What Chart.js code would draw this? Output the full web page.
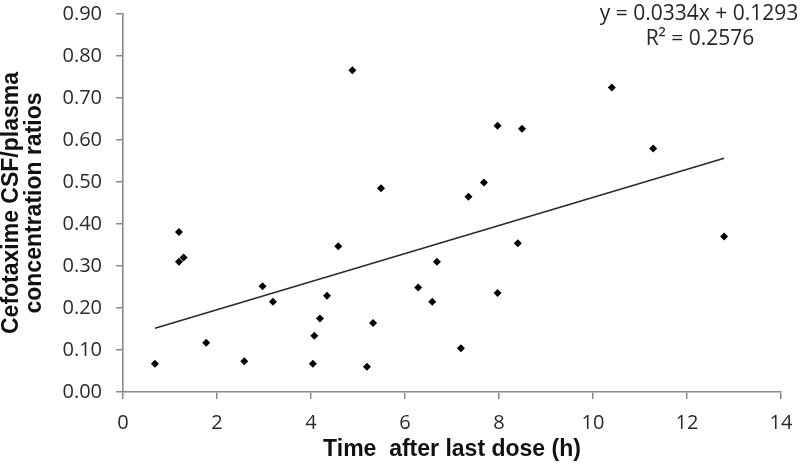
<!DOCTYPE html>
<html>
<head>
<meta charset="utf-8">
<script src="https://cdn.jsdelivr.net/npm/chart.js@4/dist/chart.umd.min.js"></script>
<style>
html,body{margin:0;padding:0;background:#fff;}
#wrap{width:800px;height:471px;position:relative;}
</style>
</head>
<body>
<div id="wrap"><canvas id="c" width="800" height="471"></canvas></div>
<script>
// Data
const timeHours = [0.68, 1.19, 1.19, 1.29, 1.77, 2.58, 2.97, 3.19, 4.04, 4.07, 4.19, 4.34, 4.58, 4.88, 5.19, 5.32, 5.49, 6.28, 6.58, 6.68, 7.19, 7.35, 7.68, 7.97, 7.97, 8.40, 8.49, 10.40, 11.28, 12.79];
const ratios    = [0.067, 0.381, 0.310, 0.320, 0.117, 0.073, 0.252, 0.215, 0.067, 0.134, 0.175, 0.229, 0.347, 0.766, 0.060, 0.164, 0.485, 0.249, 0.215, 0.310, 0.104, 0.465, 0.499, 0.634, 0.236, 0.354, 0.627, 0.725, 0.580, 0.370];
const trendSlope = 0.0334;
const trendIntercept = 0.1293;
const trendRange = [0.68, 12.79];
const rSquared = "0.2576";
const xTicks = [0, 2, 4, 6, 8, 10, 12, 14];
const yTicks = [0.00, 0.10, 0.20, 0.30, 0.40, 0.50, 0.60, 0.70, 0.80, 0.90];
const xTitle = "Time  after last dose (h)";
const yTitle = ["Cefotaxime CSF/plasma", "concentration ratios"];

const points = timeHours.map((x, i) => ({x: x, y: ratios[i]}));
const trend = trendRange.map(x => ({x: x, y: trendSlope * x + trendIntercept}));

const axisColor = '#8a8a8a';
const tickFont = {family: '"Open Sans", "Liberation Sans", Arial, sans-serif', size: 20};

const eqPlugin = {
  id: 'eq',
  afterDraw(chart) {
    const ctx = chart.ctx;
    ctx.save();
    ctx.fillStyle = '#262626';
    ctx.font = '21px "Open Sans", "Liberation Sans", Arial, sans-serif';
    ctx.textAlign = 'center';
    ctx.textBaseline = 'alphabetic';
    ctx.fillText('y = ' + trendSlope + 'x + ' + trendIntercept, 699, 20);
    ctx.fillText('R\u00B2 = ' + rSquared, 700, 45);
    ctx.restore();
  }
};

new Chart(document.getElementById('c'), {
  type: 'scatter',
  data: {
    datasets: [
      {
        label: 'ratios',
        data: points,
        pointStyle: 'rectRot',
        radius: 4,
        backgroundColor: '#000',
        borderColor: '#000',
        borderWidth: 0,
        order: 1
      },
      {
        label: 'trend',
        type: 'line',
        data: trend,
        showLine: true,
        borderColor: '#2a2a2a',
        borderWidth: 1.6,
        pointRadius: 0,
        fill: false,
        order: 2
      }
    ]
  },
  options: {
    responsive: false,
    animation: false,
    layout: {padding: {top: 14, right: 19, bottom: 0, left: 0}},
    plugins: {legend: {display: false}, tooltip: {enabled: false}},
    scales: {
      x: {
        type: 'linear',
        min: 0, max: 14,
        afterBuildTicks: s => { s.ticks = xTicks.map(v => ({value: v})); },
        afterFit: s => { s.height = 79; s.paddingLeft = 0; s.paddingRight = 0; },
        ticks: {color: '#2b2b2b', font: tickFont, padding: 12, maxRotation: 0},
        grid: {display: true, drawOnChartArea: false, drawTicks: true, tickLength: 7, color: axisColor, lineWidth: 1.5},
        border: {display: true, color: axisColor, width: 1.6},
        title: {display: true, text: xTitle, color: '#111',
                font: {family: '"Liberation Sans", Arial, sans-serif', size: 23, weight: 'bold'},
                padding: {top: 4, bottom: 8}}
      },
      y: {
        type: 'linear',
        min: 0, max: 0.9,
        afterBuildTicks: s => { s.ticks = yTicks.map(v => ({value: v})); },
        afterFit: s => { s.width = 123; s.paddingTop = 0; s.paddingBottom = 0; },
        ticks: {color: '#2b2b2b', font: tickFont, padding: 14, callback: v => Number(v).toFixed(2)},
        grid: {display: true, drawOnChartArea: false, drawTicks: true, tickLength: 7, color: axisColor, lineWidth: 1.5},
        border: {display: true, color: axisColor, width: 1.6},
        title: {display: true, text: yTitle, color: '#111',
                font: {family: '"Liberation Sans", Arial, sans-serif', size: 23, weight: 'bold', lineHeight: 1.0},
                padding: {top: 0, bottom: 0}}
      }
    }
  },
  plugins: [eqPlugin]
});
</script>
</body>
</html>
